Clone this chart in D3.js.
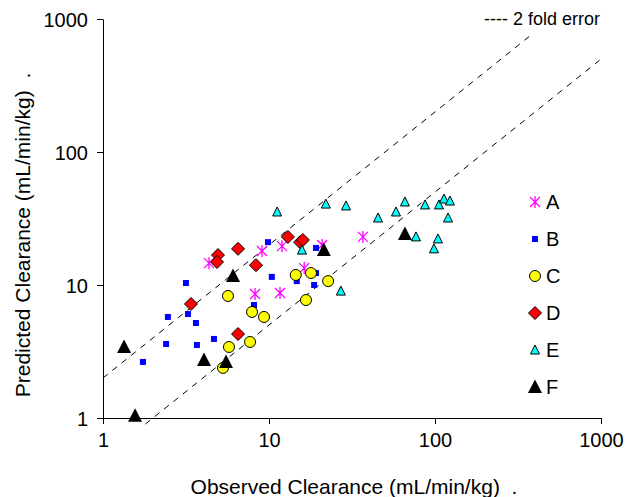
<!DOCTYPE html>
<html><head><meta charset="utf-8">
<script src="https://cdn.jsdelivr.net/npm/d3@7"></script>
<style>body{margin:0;background:#fff}svg{display:block}text{font-family:"Liberation Sans",Arial,sans-serif;white-space:pre}</style>
</head><body><svg id="c" width="627" height="497"></svg>
<script>
const seriesNames = ["A","B","C","D","E","F"];
const dataA = [[4.35,14.6],[9.07,18.0],[11.98,19.6],[20.9,20.0],[36.8,23.0],[16.3,13.4],[8.24,8.55],[11.65,8.71]];
const dataB = [[3.16,10.35],[2.46,5.75],[3.25,6.05],[3.63,5.18],[2.40,3.60],[3.68,3.54],[4.66,3.93],[1.74,2.64],[9.86,21.0],[19.2,19.0],[10.4,11.5],[14.7,10.7],[19.2,12.3],[18.7,10.0],[8.12,7.07]];
const dataC = [[5.66,8.27],[14.5,11.9],[17.9,12.3],[22.7,10.7],[16.7,7.71],[7.90,6.27],[9.33,5.75],[5.74,3.42],[7.69,3.73],[5.28,2.38]];
const dataD = [[4.93,16.8],[4.86,14.9],[6.51,18.7],[8.35,14.1],[13.0,23.0],[15.4,21.0],[16.0,21.8],[3.39,7.20],[6.51,4.28]];
const dataE = [[11.2,35.4],[22.0,40.6],[29.1,39.3],[15.8,18.3],[27.1,9.0],[45.4,31.9],[58.2,35.4],[65.9,42.1],[87.1,40.0],[105.7,40.0],[113.3,44.3],[123,42.8],[119.8,31.9],[76.8,23.0],[104.2,22.2],[98.6,18.7]];
const dataF = [[6.07,11.7],[21.4,18.3],[65.9,24.2],[1.34,3.42],[4.06,2.73],[5.51,2.64],[1.56,1.04]];
const tickValues = [1,10,100,1000];
const upperLine = [[1,2],[375,750]];
const lowerLine = [[1.8,0.9],[1000,500]];
const xTitle = "Observed Clearance (mL/min/kg)  .";
const yTitle = "Predicted Clearance (mL/min/kg)  .";
const foldLabel = "---- 2 fold error";

const svg = d3.select("#c");
const L=103,R=601,T=19,B=418;
const x = d3.scaleLog().domain([1,1000]).range([L,R]);
const y = d3.scaleLog().domain([1,1000]).range([B,T]);
const fs = 20, tfs = 21;

// dashed 2-fold lines
const line = d3.line().x(d=>x(d[0])).y(d=>y(d[1]));
[upperLine, lowerLine].forEach(l=>{
  svg.append("path").attr("d",line(l)).attr("fill","none").attr("stroke","#000").attr("stroke-width",1).attr("stroke-dasharray","6,6");
});

// axes
const xa = svg.append("g").attr("transform",`translate(0,${B})`)
  .call(d3.axisBottom(x).tickValues(tickValues).tickFormat(d3.format("d")).tickSize(6).tickSizeOuter(0));
const ya = svg.append("g").attr("transform",`translate(${L},0)`)
  .call(d3.axisLeft(y).tickValues(tickValues).tickFormat(d3.format("d")).tickSize(6).tickSizeOuter(0));
[xa,ya].forEach(a=>{
  a.select(".domain").attr("stroke","#000");
  a.selectAll(".tick line").attr("stroke","#000");
  a.selectAll("text").attr("font-size",fs).attr("font-family","Liberation Sans, Arial, sans-serif").attr("fill","#000");
});
xa.selectAll("text").attr("dy","0").attr("y",29);
ya.selectAll("text").attr("x",-15).attr("dy","0.36em");

// titles
svg.append("text").attr("x",354).attr("y",494).attr("text-anchor","middle").attr("font-size",tfs).text(xTitle);
svg.append("text").attr("transform","translate(30,235) rotate(-90)").attr("text-anchor","middle").attr("font-size",tfs).text(yTitle);
svg.append("text").attr("x",600).attr("y",25).attr("text-anchor","end").attr("font-size",18).text(foldLabel);

// markers
function drawMarker(g, type){
  if(type==="A"){
    const s=5;
    g.append("path").attr("d",`M${-s},${-s}L${s},${s}M${-s},${s}L${s},${-s}M0,${-s-1}L0,${s+1}`).attr("stroke","#FF00FF").attr("stroke-width",1.3).attr("fill","none");
  } else if(type==="B"){
    g.append("rect").attr("x",-3).attr("y",-3).attr("width",6).attr("height",6).attr("fill","#0000FF");
  } else if(type==="C"){
    g.append("circle").attr("r",5.5).attr("fill","#FFFF00").attr("stroke","#000").attr("stroke-width",1);
  } else if(type==="D"){
    g.append("path").attr("d","M0,-6.5L6.5,0L0,6.5L-6.5,0Z").attr("fill","#FF0000").attr("stroke","#000").attr("stroke-width",1);
  } else if(type==="E"){
    g.append("path").attr("d","M0,-5L4.5,4L-4.5,4Z").attr("fill","#00FFFF").attr("stroke","#000").attr("stroke-width",1);
  } else if(type==="F"){
    g.append("path").attr("d","M0,-7.5L7,6L-7,6Z").attr("fill","#000");
  }
}
const allData = {A:dataA,B:dataB,C:dataC,D:dataD,E:dataE,F:dataF};
seriesNames.forEach(n=>{
  svg.append("g").selectAll("g").data(allData[n]).join("g")
    .attr("transform",d=>`translate(${x(d[0])},${y(d[1])})`)
    .each(function(){drawMarker(d3.select(this),n);});
});

// legend
const legY = d3.scalePoint().domain(seriesNames).range([202,387]);
seriesNames.forEach(n=>{
  const g = svg.append("g").attr("transform",`translate(535,${legY(n)})`);
  drawMarker(g,n);
  svg.append("text").attr("x",546).attr("y",legY(n)).attr("dy","0.36em").attr("font-size",fs).text(n);
});
</script></body></html>
